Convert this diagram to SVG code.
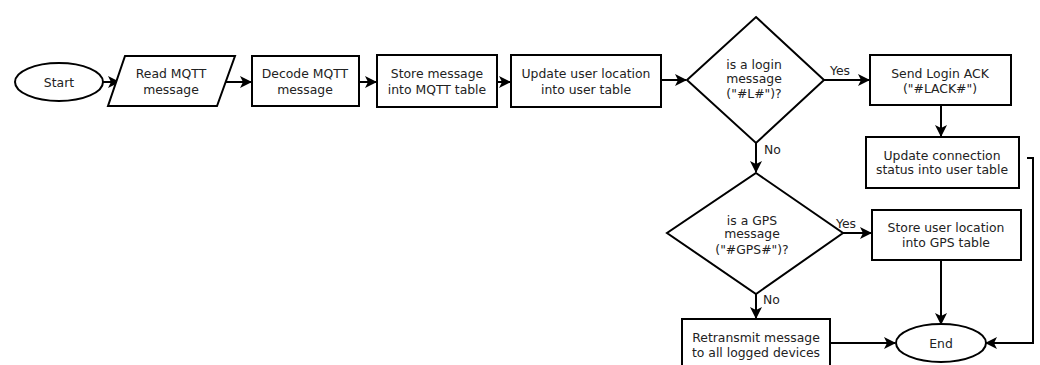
<svg xmlns="http://www.w3.org/2000/svg" width="1040" height="365" viewBox="0 0 1040 365">
  <defs>
    <marker id="arrow" viewBox="0 0 12 12" refX="11" refY="6" markerWidth="12" markerHeight="12" markerUnits="userSpaceOnUse" orient="auto">
      <path d="M0,0 L12,6 L0,12 L3,6 Z" fill="#000"/>
    </marker>
  </defs>
  <style>
    .shape { fill: #fff; stroke: #000; stroke-width: 2; }
    .edge { fill: none; stroke: #000; stroke-width: 2; marker-end: url(#arrow); }
    text { font-family: "DejaVu Sans", "Liberation Sans", sans-serif; font-size: 12.4px; fill: #222; text-anchor: middle; }
    .lbl { text-anchor: start; }
  </style>
  <rect width="1040" height="365" fill="#fff"/>

  <!-- connectors -->
  <g id="connectors">
    <path class="edge" d="M103,82 L119,82"/>
    <path class="edge" d="M226,82 L251,82"/>
    <path class="edge" d="M359,82 L376,82"/>
    <path class="edge" d="M497,82 L510,82"/>
    <path class="edge" d="M661,80 L686,80"/>
    <path class="edge" d="M824,80 L869,80"/>
    <text class="lbl" x="830" y="75">Yes</text>
    <path class="edge" d="M941,105 L941,136"/>
    <path class="edge" d="M756,143 L756,172"/>
    <text class="lbl" x="764" y="154">No</text>
    <path class="edge" d="M843,233 L871,233"/>
    <text class="lbl" x="836" y="228">Yes</text>
    <path class="edge" d="M756,294 L756,318"/>
    <text class="lbl" x="763" y="304">No</text>
    <path class="edge" d="M941,260 L941,324"/>
    <path class="edge" d="M830,343 L895,343"/>
    <path class="edge" d="M1027,158 L1033,158 L1033,343 L986,343"/>
  </g>

  <g id="start">
    <ellipse class="shape" cx="59" cy="82" rx="44" ry="19"/>
    <text x="59" y="87">Start</text>
  </g>
  <g id="read-mqtt">
    <polygon class="shape" points="125,56 235,56 217,106 108,106"/>
    <text x="171" y="78">Read MQTT</text>
    <text x="171" y="94">message</text>
  </g>
  <g id="decode-mqtt">
    <rect class="shape" x="252" y="56" width="107" height="50"/>
    <text x="305" y="78">Decode MQTT</text>
    <text x="305" y="94">message</text>
  </g>
  <g id="store-message">
    <rect class="shape" x="377" y="55" width="120" height="52"/>
    <text x="437" y="78">Store message</text>
    <text x="437" y="94">into MQTT table</text>
  </g>
  <g id="update-location">
    <rect class="shape" x="511" y="55" width="150" height="52"/>
    <text x="586" y="78">Update user location</text>
    <text x="586" y="94">into user table</text>
  </g>
  <g id="is-login">
    <polygon class="shape" points="756,17 824,80 756,143 687,80"/>
    <text x="754" y="69">is a login</text>
    <text x="754" y="83">message</text>
    <text x="754" y="98">("#L#")?</text>
  </g>
  <g id="send-ack">
    <rect class="shape" x="870" y="55" width="141" height="50"/>
    <text x="940" y="78">Send Login ACK</text>
    <text x="940" y="93">("#LACK#")</text>
  </g>
  <g id="update-connection">
    <rect class="shape" x="866" y="137" width="153" height="51"/>
    <text x="942" y="160">Update connection</text>
    <text x="942" y="174">status into user table</text>
  </g>
  <g id="is-gps">
    <polygon class="shape" points="756,173 843,233 756,294 667,233"/>
    <text x="752" y="225">is a GPS</text>
    <text x="752" y="238">message</text>
    <text x="752" y="254">("#GPS#")?</text>
  </g>
  <g id="store-gps">
    <rect class="shape" x="872" y="210" width="149" height="50"/>
    <text x="946" y="232">Store user location</text>
    <text x="946" y="247">into GPS table</text>
  </g>
  <g id="retransmit">
    <rect class="shape" x="682" y="319" width="148" height="55"/>
    <text x="756" y="342">Retransmit message</text>
    <text x="756" y="357">to all logged devices</text>
  </g>
  <g id="end">
    <ellipse class="shape" cx="941" cy="343" rx="45" ry="19"/>
    <text x="941" y="348">End</text>
  </g>
</svg>
